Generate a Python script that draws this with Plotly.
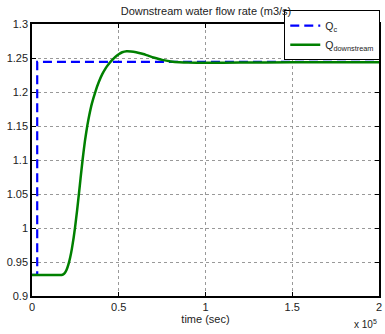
import plotly.graph_objects as go

# Data (time in seconds, flow in m3/s)
qc_t = [0, 3000, 3000, 200000]
qc_v = [0.931, 0.931, 1.2443, 1.2443]

qd_t = [0, 16000, 17000, 18000, 19000, 20000, 21000, 22000, 23000, 24000, 24800,
        26000, 27100, 28000, 29200, 30500, 31900, 33000, 34500, 36700, 38500,
        40500, 42500, 44000, 46000, 48000, 50000, 52000, 54600, 57000, 60000,
        63000, 66000, 70000, 75000, 80000, 85000, 90000, 100000, 120000, 150000, 200000]
qd_v = [0.931, 0.931, 0.931, 0.9318, 0.9343, 0.939, 0.9465, 0.9567, 0.9697, 0.9857, 1.0005,
        1.026, 1.0517, 1.0732, 1.1011, 1.1278, 1.1509, 1.1658, 1.1829, 1.2018, 1.2146,
        1.2262, 1.2352, 1.2405, 1.2465, 1.2515, 1.2555, 1.2585, 1.2600, 1.2597, 1.2585,
        1.2565, 1.2542, 1.2508, 1.2472, 1.2450, 1.2438, 1.2432, 1.2430, 1.2433, 1.2437, 1.2438]

x_tickvals = [0, 50000, 100000, 150000, 200000]
x_ticktext = ["0", "0.5", "1", "1.5", "2"]
y_tickvals = [0.9, 0.95, 1.0, 1.05, 1.1, 1.15, 1.2, 1.25, 1.3]
y_ticktext = ["0.9", "0.95", "1", "1.05", "1.1", "1.15", "1.2", "1.25", "1.3"]

FONT = "Liberation Sans, Arial, Helvetica, sans-serif"
TXT = "#222222"

fig = go.Figure()
fig.add_trace(go.Scatter(x=qc_t, y=qc_v, mode="lines", name="Q<sub>c</sub>",
                         line=dict(color="#0000FF", width=2.2, dash="9px,5px")))
fig.add_trace(go.Scatter(x=qd_t, y=qd_v, mode="lines", name="Q<sub>downstream</sub>",
                         line=dict(color="#008000", width=2.5, shape="spline", smoothing=0.4)))

axis_common = dict(showline=True, linecolor="black", linewidth=1.5, mirror="ticks",
                   ticks="inside", ticklen=4, tickcolor="black",
                   showgrid=True, gridcolor="#999999", griddash="dot", gridwidth=1,
                   zeroline=False, automargin=False, ticklabeloverflow="allow",
                   tickfont=dict(size=11, color=TXT, family=FONT))

fig.update_xaxes(range=[0, 200000], tickvals=x_tickvals, ticktext=x_ticktext,
                 title=dict(text="time (sec)", font=dict(size=11, color=TXT, family=FONT),
                            standoff=1),
                 **axis_common)
fig.update_yaxes(range=[0.9, 1.3], tickvals=y_tickvals, ticktext=y_ticktext,
                 **axis_common)

fig.update_layout(
    width=385, height=334,
    margin=dict(l=32, r=6, t=24, b=38, autoexpand=False),
    paper_bgcolor="white", plot_bgcolor="white",
    font=dict(family=FONT, size=11, color=TXT),
    title=dict(text="Downstream water flow rate (m3/s)", x=0.535, xanchor="center",
               y=0.967, yanchor="middle", font=dict(size=11, color=TXT, family=FONT)),
    showlegend=True,
    legend=dict(x=0.727, xanchor="left", y=1.051, yanchor="top",
                bgcolor="white", bordercolor="black", borderwidth=1,
                font=dict(size=10.5, color=TXT, family=FONT),
                tracegroupgap=0, itemwidth=30),
    annotations=[dict(text="x 10<sup>5</sup>", xref="paper", yref="paper",
                      x=1.0, y=-0.103, xanchor="right", yanchor="middle", showarrow=False,
                      font=dict(size=10, color=TXT, family=FONT))],
)

fig.write_html("out.html", config={"displayModeBar": False},
               post_script="document.body.style.margin='0';document.body.style.padding='0';")
